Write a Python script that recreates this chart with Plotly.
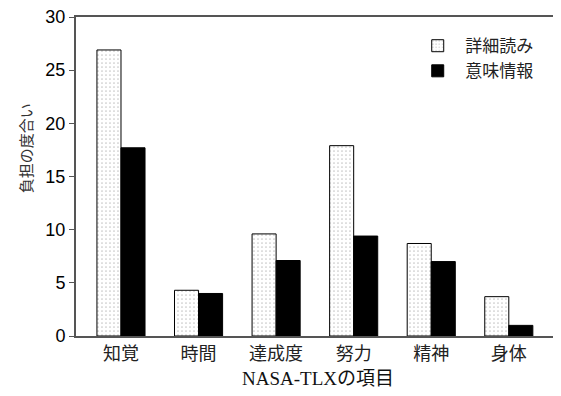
import plotly.graph_objects as go

categories = ["知覚", "時間", "達成度", "努力", "精神", "身体"]
detail_reading = [26.9, 4.3, 9.6, 17.9, 8.7, 3.7]
semantic_info = [17.7, 4.0, 7.1, 9.4, 7.0, 1.0]
series_names = ["詳細読み", "意味情報"]
y_ticks = [0, 5, 10, 15, 20, 25, 30]
x_title = "NASA‐TLXの項目"
y_title = "負担の度合い"

serif = "Liberation Serif, Noto Sans CJK JP, serif"
sans = "Liberation Sans, Arial, sans-serif"

fig = go.Figure()
fig.add_trace(go.Bar(
    x=categories, y=detail_reading, name=series_names[0],
    marker=dict(color="white", line=dict(color="black", width=1),
                pattern=dict(shape=".", fgcolor="#909090", bgcolor="white", size=4, solidity=0.15)),
))
fig.add_trace(go.Bar(
    x=categories, y=semantic_info, name=series_names[1],
    marker=dict(color="black", line=dict(color="black", width=1)),
))

# page body has an 8px default margin, so the figure is sized/offset to compensate
fig.update_layout(
    width=553, height=388,
    margin=dict(l=68, r=1, t=9, b=60, autoexpand=False),
    paper_bgcolor="white", plot_bgcolor="white",
    barmode="group", bargap=0.38, bargroupgap=0,
    showlegend=True,
    legend=dict(x=0.955, y=0.965, xanchor="right", yanchor="top",
                font=dict(family="Noto Sans CJK JP", size=17, color="#222"),
                bgcolor="rgba(0,0,0,0)", itemwidth=45),
    xaxis=dict(
        type="category", range=[-0.58, 5.66], automargin=False,
        showline=True, linecolor="#555", linewidth=2, mirror=True,
        ticks="", tickfont=dict(family=serif, size=18, color="#222"),
    ),
    yaxis=dict(
        range=[0, 30], tickvals=y_ticks, automargin=False,
        ticklabeloverflow="allow",
        showline=True, linecolor="#555", linewidth=2, mirror="ticks",
        ticks="outside", ticklen=5, tickcolor="#555",
        showgrid=False, zeroline=False,
        tickfont=dict(family=sans, size=18, color="black"),
    ),
    annotations=[
        dict(text=x_title, xref="paper", yref="paper", x=0.5, y=-0.132,
             xanchor="center", yanchor="middle", showarrow=False,
             font=dict(family=serif, size=19, color="#111")),
        dict(text=y_title, xref="paper", yref="paper", x=-0.105, y=0.589,
             xanchor="center", yanchor="middle", showarrow=False, textangle=-90,
             font=dict(family="Noto Sans CJK JP", size=15, color="#333")),
    ],
)

fig.write_html("out.html")
